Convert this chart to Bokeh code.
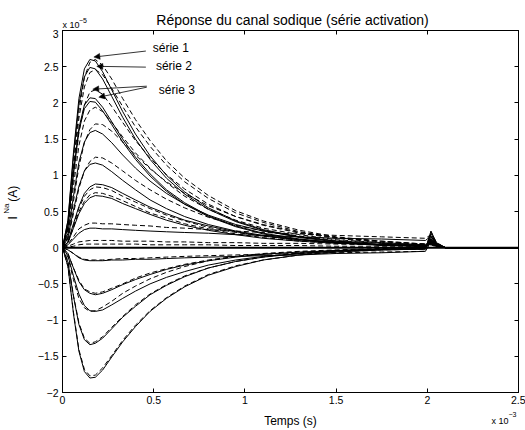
import math
from bokeh.plotting import figure
from bokeh.models import Range1d, LinearAxis, FixedTicker, Label, Arrow, NormalHead
from bokeh.layouts import column, row
from bokeh.core.properties import value
from bokeh.embed import file_html
from bokeh.resources import INLINE

FONT = "Liberation Sans"

# time axis in units of 1e-3 s, current in units of 1e-5 A
t_ms = [0, 0.03, 0.06, 0.09, 0.12, 0.15, 0.18, 0.22, 0.27, 0.33, 0.40, 0.48, 0.57,
        0.67, 0.80, 0.95, 1.10, 1.30, 1.50, 1.75, 1.99, 2.02, 2.05, 2.10, 2.50]

# solid curves (model)
s1 = [0, 0.38, 1.31, 2.06, 2.47, 2.60, 2.58, 2.43, 2.18, 1.88, 1.57, 1.27, 1.00, 0.77, 0.55, 0.37, 0.25, 0.15, 0.09, 0.04, 0.02, 0.12, 0.04, 0, 0]
s2 = [0, 0.37, 1.26, 1.98, 2.36, 2.49, 2.47, 2.33, 2.09, 1.80, 1.50, 1.22, 0.96, 0.74, 0.53, 0.36, 0.24, 0.14, 0.08, 0.04, 0.02, 0.11, 0.03, 0, 0]
s3 = [0, 0.30, 1.04, 1.65, 1.97, 2.07, 2.06, 1.94, 1.74, 1.50, 1.25, 1.02, 0.80, 0.62, 0.44, 0.30, 0.20, 0.12, 0.07, 0.04, 0.02, 0.10, 0.03, 0, 0]
s4 = [0, 0.30, 1.02, 1.61, 1.92, 2.02, 2.01, 1.89, 1.70, 1.46, 1.22, 0.99, 0.78, 0.60, 0.43, 0.29, 0.19, 0.11, 0.07, 0.03, 0.02, 0.09, 0.03, 0, 0]
s5 = [0, 0.20, 0.71, 1.18, 1.46, 1.59, 1.62, 1.57, 1.45, 1.28, 1.10, 0.92, 0.75, 0.60, 0.45, 0.32, 0.23, 0.15, 0.09, 0.06, 0.03, 0.08, 0.02, 0, 0]
s6 = [0, 0.14, 0.52, 0.85, 1.06, 1.15, 1.17, 1.14, 1.05, 0.93, 0.80, 0.66, 0.54, 0.43, 0.32, 0.23, 0.17, 0.11, 0.07, 0.04, 0.02, 0.07, 0.02, 0, 0]
s7 = [0, 0.08, 0.33, 0.57, 0.75, 0.84, 0.88, 0.87, 0.83, 0.75, 0.66, 0.56, 0.47, 0.38, 0.30, 0.22, 0.16, 0.11, 0.07, 0.04, 0.03, 0.06, 0.02, 0, 0]
s8 = [0, 0.07, 0.27, 0.47, 0.61, 0.69, 0.72, 0.71, 0.68, 0.61, 0.54, 0.46, 0.38, 0.31, 0.24, 0.18, 0.13, 0.09, 0.06, 0.04, 0.02, 0.05, 0.02, 0, 0]
s9 = [0, 0.04, 0.12, 0.20, 0.25, 0.27, 0.27, 0.26, 0.26, 0.25, 0.24, 0.23, 0.22, 0.21, 0.20, 0.18, 0.17, 0.15, 0.13, 0.12, 0.10, 0.16, 0.05, 0, 0]
s11 = [0, -0.03, -0.08, -0.14, -0.17, -0.18, -0.18, -0.18, -0.17, -0.17, -0.16, -0.16, -0.15, -0.14, -0.13, -0.12, -0.11, -0.10, -0.08, -0.07, -0.05, 0.10, 0.03, 0, 0]
s12 = [0, -0.08, -0.28, -0.47, -0.58, -0.63, -0.65, -0.63, -0.58, -0.51, -0.44, -0.37, -0.30, -0.24, -0.18, -0.13, -0.09, -0.06, -0.04, -0.02, -0.01, 0.13, 0.04, 0, 0]
s13 = [0, -0.11, -0.39, -0.64, -0.80, -0.87, -0.88, -0.86, -0.79, -0.70, -0.60, -0.50, -0.41, -0.33, -0.24, -0.17, -0.12, -0.08, -0.05, -0.03, -0.02, 0.16, 0.05, 0, 0]
s14 = [0, -0.20, -0.67, -1.06, -1.27, -1.34, -1.32, -1.25, -1.12, -0.96, -0.81, -0.65, -0.52, -0.40, -0.28, -0.19, -0.13, -0.08, -0.04, -0.02, -0.01, 0.20, 0.06, 0, 0]
s15 = [0, -0.26, -0.91, -1.43, -1.71, -1.80, -1.79, -1.69, -1.51, -1.30, -1.09, -0.88, -0.70, -0.54, -0.38, -0.26, -0.17, -0.10, -0.06, -0.03, -0.02, 0.23, 0.07, 0, 0]

# dashed curves (measurements)
d1 = [0, 0.32, 1.15, 1.89, 2.35, 2.56, 2.60, 2.52, 2.33, 2.06, 1.77, 1.48, 1.20, 0.96, 0.72, 0.51, 0.37, 0.24, 0.15, 0.09, 0.05, 0.12, 0.04, 0, 0]
d2 = [0, 0.30, 1.09, 1.79, 2.22, 2.42, 2.46, 2.39, 2.20, 1.95, 1.67, 1.40, 1.14, 0.91, 0.68, 0.48, 0.35, 0.22, 0.14, 0.08, 0.05, 0.11, 0.03, 0, 0]
d3 = [0, 0.27, 0.96, 1.59, 1.97, 2.15, 2.18, 2.12, 1.95, 1.73, 1.48, 1.24, 1.01, 0.81, 0.60, 0.43, 0.31, 0.20, 0.13, 0.07, 0.04, 0.10, 0.03, 0, 0]
d4 = [0, 0.24, 0.85, 1.41, 1.75, 1.90, 1.94, 1.88, 1.73, 1.53, 1.31, 1.10, 0.90, 0.71, 0.53, 0.38, 0.27, 0.18, 0.11, 0.07, 0.04, 0.09, 0.03, 0, 0]
d5 = [0, 0.16, 0.64, 1.12, 1.45, 1.63, 1.71, 1.70, 1.61, 1.46, 1.28, 1.09, 0.91, 0.75, 0.58, 0.43, 0.32, 0.21, 0.14, 0.09, 0.05, 0.08, 0.02, 0, 0]
d6 = [0, 0.12, 0.47, 0.82, 1.06, 1.19, 1.25, 1.24, 1.17, 1.06, 0.93, 0.80, 0.67, 0.55, 0.42, 0.31, 0.23, 0.16, 0.10, 0.06, 0.04, 0.07, 0.02, 0, 0]
d7 = [0, 0.08, 0.31, 0.55, 0.71, 0.80, 0.84, 0.83, 0.79, 0.71, 0.63, 0.54, 0.45, 0.37, 0.28, 0.21, 0.16, 0.10, 0.07, 0.04, 0.03, 0.06, 0.02, 0, 0]
d8 = [0, 0.07, 0.28, 0.50, 0.64, 0.73, 0.76, 0.75, 0.71, 0.65, 0.57, 0.48, 0.41, 0.33, 0.26, 0.19, 0.14, 0.09, 0.06, 0.04, 0.02, 0.05, 0.02, 0, 0]
d9 = [0, 0.05, 0.15, 0.26, 0.31, 0.34, 0.34, 0.33, 0.33, 0.32, 0.31, 0.30, 0.28, 0.27, 0.25, 0.23, 0.21, 0.19, 0.17, 0.15, 0.13, 0.18, 0.05, 0, 0]
d10 = [0, 0.02, 0.05, 0.08, 0.09, 0.10, 0.10, 0.10, 0.10, 0.09, 0.09, 0.09, 0.08, 0.08, 0.07, 0.07, 0.06, 0.06, 0.05, 0.04, 0.04, 0.06, 0.02, 0, 0]
d11 = [0, 0.01, 0.02, 0.04, 0.05, 0.05, 0.05, 0.05, 0.05, 0.05, 0.05, 0.04, 0.04, 0.04, 0.04, 0.03, 0.03, 0.03, 0.02, 0.02, 0.02, 0.04, 0.01, 0, 0]
d12 = [0, -0.03, -0.08, -0.13, -0.16, -0.17, -0.17, -0.17, -0.16, -0.15, -0.15, -0.14, -0.13, -0.12, -0.11, -0.10, -0.09, -0.08, -0.07, -0.06, -0.05, 0.09, 0.03, 0, 0]
d13 = [0, -0.08, -0.28, -0.45, -0.57, -0.61, -0.63, -0.61, -0.56, -0.50, -0.42, -0.35, -0.29, -0.23, -0.17, -0.12, -0.09, -0.06, -0.04, -0.02, -0.01, 0.12, 0.04, 0, 0]
d14 = [0, -0.13, -0.44, -0.70, -0.83, -0.88, -0.87, -0.82, -0.74, -0.63, -0.53, -0.43, -0.34, -0.26, -0.18, -0.12, -0.08, -0.05, -0.03, -0.01, -0.01, 0.15, 0.05, 0, 0]
d15 = [0, -0.19, -0.66, -1.04, -1.25, -1.32, -1.30, -1.23, -1.10, -0.95, -0.79, -0.64, -0.51, -0.39, -0.28, -0.19, -0.13, -0.07, -0.04, -0.02, -0.01, 0.19, 0.06, 0, 0]
d16 = [0, -0.26, -0.89, -1.41, -1.68, -1.77, -1.76, -1.66, -1.49, -1.28, -1.07, -0.87, -0.69, -0.53, -0.37, -0.25, -0.17, -0.10, -0.06, -0.03, -0.02, 0.22, 0.07, 0, 0]

# baseline (non-activated steps)
zero_t = [0, 2.5]
zero_i = [0, 0]

x_ticks = [0, 0.5, 1, 1.5, 2, 2.5]
x_tick_labels = ["0", "0.5", "1", "1.5", "2", "2.5"]
y_ticks = [-2, -1.5, -1, -0.5, 0, 0.5, 1, 1.5, 2, 2.5, 3]
y_tick_labels = ["\u22122", "\u22121.5", "\u22121", "\u22120.5", "0", "0.5", "1", "1.5", "2", "2.5", "3"]

# annotations
series_labels = ["série 1", "série 2", "série 3"]
series_label_x = [0.495, 0.512, 0.528]
series_label_y = [2.758, 2.508, 2.176]
arrow_x0 = [0.457, 0.457, 0.462, 0.462]
arrow_y0 = [2.716, 2.494, 2.231, 2.217]
arrow_x1 = [0.172, 0.188, 0.166, 0.199]
arrow_y1 = [2.633, 2.505, 2.189, 2.079]

title_text = "Réponse du canal sodique (série activation)"
x_label_text = "Temps (s)"

solid_curves = [s1, s2, s3, s4, s5, s6, s7, s8, s9, s11, s12, s13, s14, s15]
dashed_curves = [d1, d2, d3, d4, d5, d6, d7, d8, d9, d10, d11, d12, d13, d14, d15, d16]

W, H = 525, 430
TOP_H = 29
LEFT_W = 24
MAIN_H = 379
BOTTOM_H = H - TOP_H - MAIN_H


def strip(w, h):
    f = figure(width=w, height=h, x_range=Range1d(0, w), y_range=Range1d(0, h),
               output_backend="svg", toolbar_location=None, min_border=0,
               x_axis_location=None, y_axis_location=None)
    f.grid.visible = False
    f.outline_line_color = None
    f.background_fill_color = "white"
    f.border_fill_color = "white"
    return f


def put(f, xs, ys, texts, size, align="left", baseline="alphabetic", angle=0.0):
    f.text(x=xs, y=ys, text=texts, text_font=value(FONT), text_font_size=value(size),
           text_align=align, text_baseline=baseline, angle=angle, text_color="black")


# ---- main plot ----
p = figure(width=W - LEFT_W, height=MAIN_H, x_range=Range1d(0, 2.5), y_range=Range1d(-2, 3),
           output_backend="svg", toolbar_location=None,
           min_border_left=62 - LEFT_W, min_border_right=7, min_border_top=1, min_border_bottom=16)
p.grid.visible = False
p.outline_line_color = "black"
p.outline_line_alpha = 1.0
p.outline_line_width = 1
p.background_fill_color = "white"
p.border_fill_color = "white"

for c in dashed_curves:
    p.line(t_ms, c, line_color="black", line_width=1, line_dash="5 3")
for c in solid_curves:
    p.line(t_ms, c, line_color="black", line_width=1)
p.line(zero_t, zero_i, line_color="black", line_width=2)

top_ax = LinearAxis()
right_ax = LinearAxis()
p.add_layout(top_ax, "above")
p.add_layout(right_ax, "right")


def style(ax, ticks, labels, show):
    ax.ticker = FixedTicker(ticks=ticks)
    ax.major_label_overrides = {t: l for t, l in zip(ticks, labels)}
    ax.major_tick_in = 4
    ax.major_tick_out = 0
    ax.minor_tick_line_color = None
    ax.axis_line_color = "black"
    ax.major_tick_line_color = "black"
    ax.major_label_text_font = FONT
    ax.major_label_text_font_size = "10.5px"
    if show:
        ax.major_label_text_color = "black"
        ax.major_label_standoff = 4
    else:
        ax.major_label_text_color = None
        ax.major_label_text_alpha = 0
        ax.major_label_standoff = 0


style(p.below[0], x_ticks, x_tick_labels, True)
style(p.left[0], y_ticks, y_tick_labels, True)
style(top_ax, x_ticks, x_tick_labels, False)
style(right_ax, y_ticks, y_tick_labels, False)
p.below[0].major_label_standoff = 3

for txt, x, y in zip(series_labels, series_label_x, series_label_y):
    p.add_layout(Label(x=x, y=y, text=txt, text_font=FONT, text_font_size="12px",
                       text_align="left", text_baseline="middle", text_color="black"))

for xs, ys, xe, ye in zip(arrow_x0, arrow_y0, arrow_x1, arrow_y1):
    p.add_layout(Arrow(end=NormalHead(size=6, fill_color="black", line_color="black", line_width=0.5),
                       x_start=xs, y_start=ys, x_end=xe, y_end=ye,
                       line_color="black", line_width=0.8))

# ---- title strip (with y exponent) ----
top_fig = strip(W, TOP_H)
put(top_fig, [292], [TOP_H - 19.5], [title_text], "14px", align="center")
put(top_fig, [62], [TOP_H - 24.5], ["x 10"], "9px")
put(top_fig, [78.5], [TOP_H - 19.5], ["\u22125"], "7px")

# ---- y-axis label strip: I_Na (A) ----
left_fig = strip(LEFT_W, MAIN_H)
y_bottom_page = TOP_H + MAIN_H
put(left_fig, [12.5], [y_bottom_page - 225], ["I"], "12px", align="center", baseline="middle", angle=math.pi / 2)
put(left_fig, [5.5], [y_bottom_page - 215.5], ["Na"], "8px", align="center", baseline="middle", angle=math.pi / 2)
put(left_fig, [12.5], [y_bottom_page - 200], ["(A)"], "12px", align="center", baseline="middle", angle=math.pi / 2)

# ---- x-axis label strip (with x exponent) ----
bottom_fig = strip(W, BOTTOM_H)
put(bottom_fig, [290], [H - 420], [x_label_text], "12px", align="center", baseline="middle")
put(bottom_fig, [491], [H - 420], ["x 10"], "9px")
put(bottom_fig, [508], [H - 413.5], ["\u22123"], "7px")

layout = column(top_fig, row(left_fig, p), bottom_fig)
open("out.html", "w").write(file_html(layout, INLINE))
